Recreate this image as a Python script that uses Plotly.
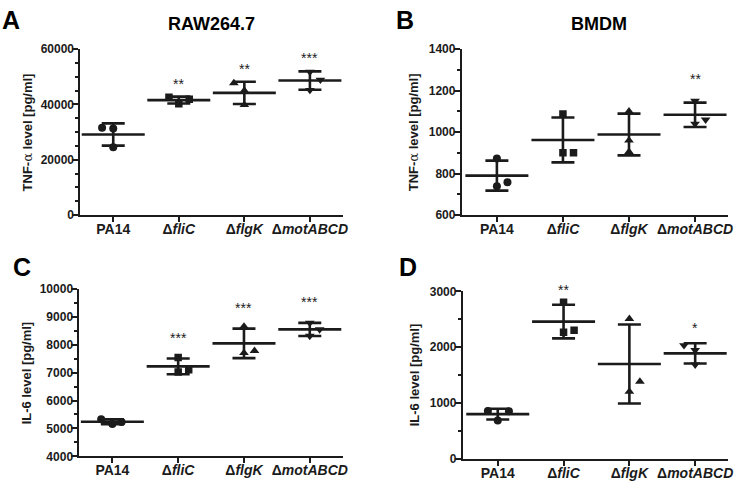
import numpy as np
import plotly.graph_objects as go

# ---------------- data ----------------
categories = ["PA14", "ΔfliC", "ΔflgK", "ΔmotABCD"]
tick_labels = ["PA14", "Δ<i>fliC</i>", "Δ<i>flgK</i>", "Δ<i>motABCD</i>"]

# Panel A: TNF-alpha, RAW264.7 (pg/ml), three replicates per strain
tnf_raw_pa14 = [31600, 31300, 24500]
tnf_raw_flic = [42600, 40200, 41900]
tnf_raw_flgk = [47700, 45000, 39800]
tnf_raw_mot = [51800, 48900, 45200]
tnf_raw_sig = ["", "**", "**", "***"]

# Panel B: TNF-alpha, BMDM (pg/ml)
tnf_bmdm_pa14 = [873, 739, 759]
tnf_bmdm_flic = [1087, 900, 900]
tnf_bmdm_flgk = [1100, 960, 905]
tnf_bmdm_mot = [1150, 1040, 1060]
tnf_bmdm_sig = ["", "", "", "**"]

# Panel C: IL-6, RAW264.7 (pg/ml)
il6_raw_pa14 = [5330, 5160, 5230]
il6_raw_flic = [7540, 7020, 7100]
il6_raw_flgk = [8650, 7700, 7780]
il6_raw_mot = [8780, 8310, 8540]
il6_raw_sig = ["", "***", "***", "***"]

# Panel D: IL-6, BMDM (pg/ml)
il6_bmdm_pa14 = [860, 855, 690]
il6_bmdm_flic = [2804, 2265, 2305]
il6_bmdm_flgk = [2508, 1205, 1384]
il6_bmdm_mot = [2033, 1947, 1686]
il6_bmdm_sig = ["", "**", "", "*"]

# ---------------- styling / layout ----------------
W, H = 745, 488
INK = "#1b1b1b"
FONT = "Liberation Sans, Arial, sans-serif"
SYMBOLS = ["circle", "square", "triangle-up", "triangle-down"]
SYM_SIZE = [8, 7.5, 8.5, 8.5]

# horizontal jitter of replicate dots (category units)
jit_a = [[-0.17, 0, 0], [-0.15, 0, 0.16], [-0.16, 0, 0], [0, 0.16, 0]]
jit_b = [[0, 0, 0.16], [0, 0, 0.16], [0, 0, 0], [0, 0, 0.16]]
jit_c = [[-0.17, 0, 0.14], [0, 0, 0.16], [0, 0, 0.16], [0, 0, 0.15]]
jit_d = [[-0.15, 0.17, 0], [0, 0, 0.16], [0, 0, 0.16], [-0.17, 0, 0]]

ytitle_tnf = 'TNF-<span style="font-family:DejaVu Serif;font-weight:normal">α</span> level [pg/ml]'
ytitle_il6 = "IL-6 level [pg/ml]"

panels = [
    dict(letter="A", letter_xy=(11, 13), title="RAW264.7", title_xy=(213, 17.5),
         ytitle=ytitle_tnf, ytitle_x=27.5,
         data=[tnf_raw_pa14, tnf_raw_flic, tnf_raw_flgk, tnf_raw_mot], jit=jit_a, sig=tnf_raw_sig,
         yrange=[0, 60000], dtick=20000, minor=5000, xpx=(81, 345), ypx=(43.3, 214.3),
         xrange=[-0.5, 3.5], star_shift=13),
    dict(letter="B", letter_xy=(408, 13), title="BMDM", title_xy=(603, 17.5),
         ytitle=ytitle_tnf, ytitle_x=416,
         data=[tnf_bmdm_pa14, tnf_bmdm_flic, tnf_bmdm_flgk, tnf_bmdm_mot], jit=jit_b, sig=tnf_bmdm_sig,
         yrange=[600, 1400], dtick=200, minor=100, xpx=(465, 733), ypx=(43.3, 214.3),
         xrange=[-0.53, 3.5], star_shift=24),
    dict(letter="C", letter_xy=(22, 268), title="", title_xy=(0, 0),
         ytitle=ytitle_il6, ytitle_x=27,
         data=[il6_raw_pa14, il6_raw_flic, il6_raw_flgk, il6_raw_mot], jit=jit_c, sig=il6_raw_sig,
         yrange=[4000, 10000], dtick=1000, minor=500, xpx=(80, 345), ypx=(290, 462.7),
         xrange=[-0.5, 3.5], star_shift=21),
    dict(letter="D", letter_xy=(411, 268), title="", title_xy=(0, 0),
         ytitle=ytitle_il6, ytitle_x=417,
         data=[il6_bmdm_pa14, il6_bmdm_flic, il6_bmdm_flgk, il6_bmdm_mot], jit=jit_d, sig=il6_bmdm_sig,
         yrange=[0, 3000], dtick=1000, minor=500, xpx=(466, 733), ypx=(292.7, 465.3),
         xrange=[-0.53, 3.5], star_shift=15),
]

fig = go.Figure()
annotations = []
layout_axes = {}

for k, p in enumerate(panels):
    n = "" if k == 0 else str(k + 1)
    xa, ya = "x" + n, "y" + n
    xdom = [p["xpx"][0] / W, p["xpx"][1] / W]
    ydom = [1 - p["ypx"][1] / H, 1 - p["ypx"][0] / H]

    for i, vals in enumerate(p["data"]):
        vals = np.asarray(vals, dtype=float)
        xs = [i + j for j in p["jit"][i]]
        fig.add_trace(go.Scatter(
            x=xs, y=vals, xaxis=xa, yaxis=ya, mode="markers", showlegend=False,
            marker=dict(symbol=SYMBOLS[i], size=SYM_SIZE[i], color=INK, line=dict(width=0)),
            hoverinfo="skip"))
        m = vals.mean()
        sd = vals.std(ddof=1)
        fig.add_trace(go.Scatter(
            x=[i], y=[m], xaxis=xa, yaxis=ya, mode="markers", showlegend=False,
            marker=dict(symbol="line-ew", size=45, color=INK, line=dict(width=2.6, color=INK)),
            error_y=dict(type="data", array=[sd], visible=True, thickness=2.6, width=11.5, color=INK),
            hoverinfo="skip"))
        if p["sig"][i]:
            annotations.append(dict(
                x=i, y=m + sd, xref=xa, yref=ya, text=p["sig"][i], showarrow=False,
                yanchor="middle", yshift=p["star_shift"],
                font=dict(family=FONT, size=14, color=INK)))

    axis_common = dict(showline=True, linewidth=2, linecolor=INK, ticks="outside",
                       tickwidth=2, tickcolor=INK, showgrid=False, zeroline=False)
    layout_axes["xaxis" + n] = dict(
        axis_common, domain=xdom, anchor=ya, range=p["xrange"], tickvals=[0, 1, 2, 3],
        ticktext=tick_labels, ticklen=5, ticklabelstandoff=-5,
        tickfont=dict(family=FONT, size=14, color=INK, weight=700))
    layout_axes["yaxis" + n] = dict(
        axis_common, domain=ydom, anchor=xa, range=p["yrange"], dtick=p["dtick"], tick0=0,
        ticklen=6, tickformat="d", ticklabelstandoff=-4,
        minor=dict(dtick=p["minor"], tick0=0, ticks="outside", ticklen=3, tickwidth=1.5, tickcolor=INK),
        tickfont=dict(family=FONT, size=12, color=INK, weight=700))

    annotations.append(dict(
        x=p["letter_xy"][0] / W, y=1 - p["letter_xy"][1] / H, xref="paper", yref="paper",
        text="<b>%s</b>" % p["letter"], showarrow=False, xanchor="center", yanchor="middle",
        font=dict(family=FONT, size=25, color="#000000")))
    if p["title"]:
        annotations.append(dict(
            x=p["title_xy"][0] / W, y=1 - p["title_xy"][1] / H, xref="paper", yref="paper",
            text="<b>%s</b>" % p["title"], showarrow=False, xanchor="center", yanchor="middle",
            font=dict(family=FONT, size=18, color="#000000")))
    annotations.append(dict(
        x=p["ytitle_x"] / W, y=(ydom[0] + ydom[1]) / 2, xref="paper", yref="paper",
        text="<b>%s</b>" % p["ytitle"], showarrow=False, textangle=-90,
        xanchor="center", yanchor="middle",
        font=dict(family=FONT, size=13, color=INK)))

fig.update_layout(
    width=W, height=H, margin=dict(l=0, r=0, t=0, b=0),
    paper_bgcolor="white", plot_bgcolor="white",
    annotations=annotations, **layout_axes)

fig.write_html("out.html", config={"displayModeBar": False},
               post_script="document.body.style.margin='0';document.body.style.overflow='hidden';")
